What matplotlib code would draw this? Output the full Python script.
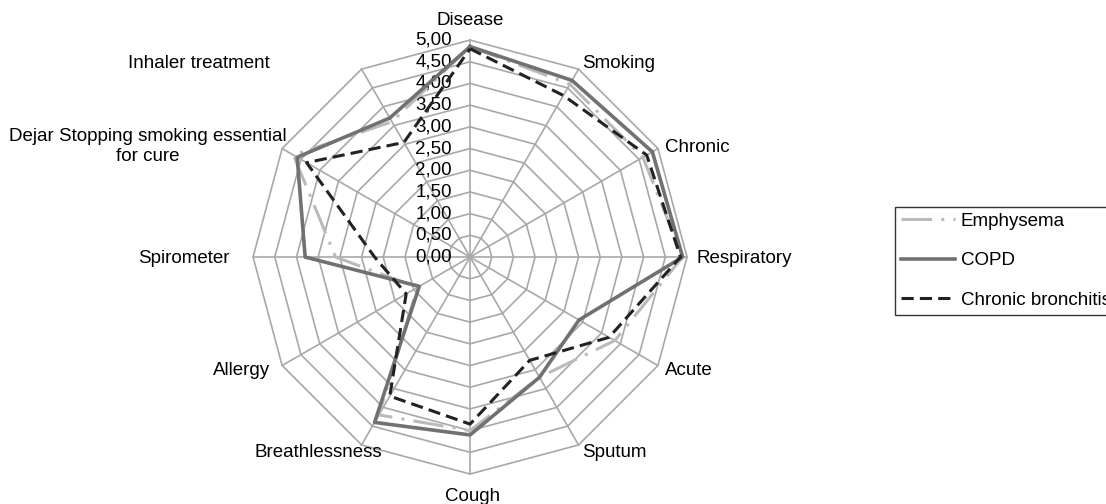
import numpy as np
import matplotlib
matplotlib.use('Agg')
import matplotlib.pyplot as plt

plt.rcParams['font.family'] = ['Liberation Sans', 'DejaVu Sans']
plt.rcParams['font.size'] = 13.5

# categories, clockwise from the top
categories = ['Disease', 'Smoking', 'Chronic', 'Respiratory', 'Acute', 'Sputum', 'Cough',
              'Breathlessness', 'Allergy', 'Spirometer',
              'Dejar Stopping smoking essential\nfor cure', 'Inhaler treatment']

emphysema = [4.85, 4.60, 4.60, 4.90, 3.85, 3.20, 4.00, 4.20, 1.40, 3.10, 4.70, 3.60]
copd = [4.85, 4.70, 4.85, 4.90, 2.90, 3.20, 4.10, 4.40, 1.35, 3.80, 4.60, 3.70]
chronic_bronchitis = [4.80, 4.30, 4.70, 4.85, 3.70, 2.75, 3.85, 3.70, 1.70, 2.20, 4.35, 3.05]

levels = np.arange(0, 5.01, 0.5)
level_labels = ['%.2f' % v for v in levels]
level_labels = [s.replace('.', ',') for s in level_labels]

# label placement (offset in pixels from the outer vertex, alignment)
label_pos = [((0, 20), 'center'), ((4, 6), 'left'), ((7, 1), 'left'), ((9, -1), 'left'),
             ((7, -5), 'left'), ((4, -8), 'left'), ((3, -22), 'center'), ((-43, -8), 'center'),
             ((-12, -5), 'right'), ((-23, -1), 'right'), ((-134, 2), 'center'), ((-163, 6), 'center')]

n = len(categories)
angles = np.arange(n) * 2 * np.pi / n
closed = np.append(angles, angles[0])

fig = plt.figure(figsize=(11.06, 5.04), dpi=100)
ax = fig.add_axes([0.2288, 0.0595, 0.3924, 0.861], projection='polar')
ax.set_theta_zero_location('N')
ax.set_theta_direction(-1)
ax.set_ylim(0, 5)
ax.set_xticks([])
ax.set_yticks([])
ax.grid(False)
ax.spines['polar'].set_visible(False)

grid_c = '#a8a8a8'
for lvl in levels[1:]:
    ax.plot(closed, [lvl] * (n + 1), color=grid_c, lw=1.2, zorder=1, clip_on=False)
for a in angles:
    ax.plot([a, a], [0, 5], color=grid_c, lw=1.2, zorder=1, clip_on=False)

# radial value labels along the top axis
for lvl, txt in zip(levels, level_labels):
    ax.annotate(txt, xy=(0, lvl), xytext=(-18, 0), textcoords='offset pixels',
                ha='right', va='center', annotation_clip=False)

# category labels
for a, cat, (off, ha) in zip(angles, categories, label_pos):
    ax.annotate(cat, xy=(a, 5), xytext=off, textcoords='offset pixels',
                ha=ha, va='center', multialignment='center', annotation_clip=False)

l1, = ax.plot(closed, emphysema + emphysema[:1], color='#bababa', lw=2.2,
              linestyle=(0, (10, 3, 1, 3)), zorder=3, clip_on=False, label='Emphysema')
l2, = ax.plot(closed, copd + copd[:1], color='#717171', lw=2.6,
              zorder=4, clip_on=False, label='COPD')
l3, = ax.plot(closed, chronic_bronchitis + chronic_bronchitis[:1], color='#222222', lw=2.2,
              linestyle=(0, (4, 2)), zorder=5, clip_on=False, label='Chronic bronchitis')

# legend sits partly off the right edge, as in the original chart
leg = fig.legend(handles=[l1, l2, l3], loc='upper left',
                 bbox_to_anchor=(895 / 1106, 1 - 207 / 504), frameon=True, fancybox=False,
                 edgecolor='black', handlelength=2.9, handletextpad=0.3, labelspacing=1.2,
                 borderpad=0.3, borderaxespad=0)
leg.get_frame().set_linewidth(1.0)

fig.savefig('out.png', dpi=100)
